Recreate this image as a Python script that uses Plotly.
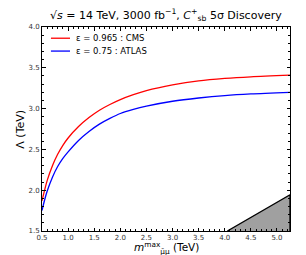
import plotly.graph_objects as go

# Data
m_max = [0.5, 0.55, 0.6, 0.7, 0.8, 0.9, 1.0, 1.2, 1.4, 1.6, 1.8, 2.0, 2.25, 2.5, 3.0, 3.5, 4.0, 4.5, 5.25]
lam_cms = [1.87, 2.00, 2.12, 2.30, 2.44, 2.55, 2.64, 2.78, 2.89, 2.98, 3.05, 3.11, 3.17, 3.22, 3.29, 3.34, 3.37, 3.39, 3.41]
lam_atlas = [1.75, 1.88, 1.99, 2.16, 2.29, 2.39, 2.47, 2.61, 2.72, 2.81, 2.88, 2.94, 2.99, 3.03, 3.09, 3.13, 3.16, 3.18, 3.20]
bound_x = [4.05, 5.25, 5.25]
bound_y = [1.5, 1.944, 1.5]

label_cms = "ε = 0.965 : CMS"
label_atlas = "ε = 0.75 : ATLAS"
title = "√<i>s</i> = 14 TeV, 3000 fb<sup>−1</sup>, <i>C</i><sup>+</sup><sub>sb</sub> 5σ Discovery"
xtitle = "<i>m</i><sup>max</sup><sub>μ̄μ</sub> (TeV)"
ytitle = "Λ (TeV)"

FONT = "DejaVu Sans"

fig = go.Figure()
fig.add_trace(go.Scatter(x=bound_x, y=bound_y, fill="toself", fillcolor="#a0a0a0",
                         mode="lines", line=dict(color="black", width=1.3),
                         showlegend=False, hoverinfo="skip"))
fig.add_trace(go.Scatter(x=m_max, y=lam_cms, mode="lines", name=label_cms, showlegend=False,
                         line=dict(color="#ff0000", width=1.3, shape="spline", smoothing=0.8)))
fig.add_trace(go.Scatter(x=m_max, y=lam_atlas, mode="lines", name=label_atlas, showlegend=False,
                         line=dict(color="#0000ff", width=1.3, shape="spline", smoothing=0.8)))

# manual legend (paper coordinates)
legend_items = [(label_cms, "#ff0000", 0.945), (label_atlas, "#0000ff", 0.882)]
for text, color, yy in legend_items:
    fig.add_shape(type="line", xref="paper", yref="paper", x0=0.036, x1=0.113, y0=yy, y1=yy,
                  line=dict(color=color, width=1.3))
    fig.add_annotation(xref="paper", yref="paper", x=0.13, y=yy, xanchor="left", yanchor="middle",
                       text=text, showarrow=False,
                       font=dict(family=FONT, size=8.5, color="black"))

# axis titles as annotations for precise placement
fig.add_annotation(xref="paper", yref="paper", x=0.5, y=-0.085, xanchor="center", yanchor="middle",
                   text=xtitle, showarrow=False, font=dict(family=FONT, size=10.5, color="black"))
fig.add_annotation(xref="paper", yref="paper", x=-0.09, y=0.5, xanchor="center", yanchor="middle",
                   text=ytitle, textangle=-90, showarrow=False,
                   font=dict(family=FONT, size=11, color="black"))

axis_common = dict(
    showgrid=False, zeroline=False, showline=True, linecolor="black", linewidth=1,
    mirror="allticks", ticks="inside", ticklen=3.5, tickwidth=0.8, tickcolor="black",
    tickfont=dict(family=FONT, size=7, color="#333333"),
    minor=dict(ticks="inside", ticklen=2, tickwidth=0.6, tickcolor="black", dtick=0.1),
    automargin=False,
)

fig.update_layout(
    width=306, height=255,
    margin=dict(l=34, r=24, t=19, b=32),
    paper_bgcolor="white", plot_bgcolor="white",
    showlegend=False,
    title=dict(text=title, x=0.516, xanchor="center", y=0.988, yanchor="top",
               font=dict(family=FONT, size=11, color="black")),
    xaxis=dict(range=[0.5, 5.25], tick0=0.5, dtick=0.5, tickformat=".1f", **axis_common),
    yaxis=dict(range=[1.5, 4.0], tick0=1.5, dtick=0.5, tickformat=".1f", **axis_common),
)

fig.write_html("out.html")
